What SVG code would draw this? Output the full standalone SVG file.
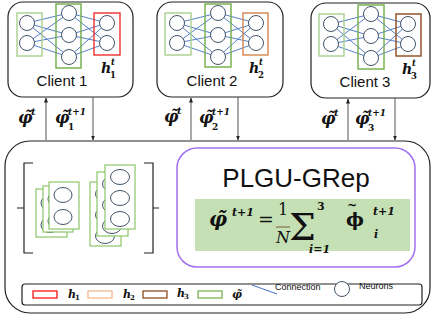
<svg xmlns="http://www.w3.org/2000/svg" width="433" height="320" viewBox="0 0 433 320">
<style>
.box{fill:#fff;stroke:#222;stroke-width:1.2}
.neu{fill:#fff;stroke:#44546a;stroke-width:1}
.con{stroke:#4472c4;stroke-width:0.9;fill:none}
.gin{fill:none;stroke:#a9d18e;stroke-width:1.4}
.ghid{fill:none;stroke:#70ad47;stroke-width:1.4}
.lay{fill:#fff;stroke:#8dc56a;stroke-width:1.2}
.lab{font-family:"Liberation Sans",Arial,sans-serif;fill:#111}
.m{font-family:"DejaVu Serif","Liberation Serif",serif;font-weight:bold;font-style:italic;fill:#111}
.mu{font-family:"DejaVu Serif","Liberation Serif",serif;font-weight:bold;fill:#111}
.arr{stroke:#555;stroke-width:1;fill:none}
</style>
<defs>
<marker id="ah" viewBox="0 0 10 10" refX="9" refY="5" markerWidth="5" markerHeight="5" orient="auto">
<path d="M0,1 L10,5 L0,9 z" fill="#222"/>
</marker>
</defs>

<!-- Client 1 -->
<g id="client1">
<rect class="box" x="8" y="2" width="125" height="95" rx="15"/>
<g class="con">
<path d="M27,23 L69,13 M27,23 L69,35 M27,23 L69,57 M27,43 L69,13 M27,43 L69,35 M27,43 L69,57 M69,13 L107,23 M69,13 L107,43 M69,35 L107,23 M69,35 L107,43 M69,57 L107,23 M69,57 L107,43"/>
</g>
<rect class="gin" x="17" y="13" width="25" height="43"/>
<rect class="ghid" x="56" y="4" width="25" height="64"/>
<rect x="94" y="13" width="26" height="42" fill="none" stroke="#f03030" stroke-width="1.4"/>
<circle class="neu" cx="27" cy="23" r="7.5"/><circle class="neu" cx="27" cy="43" r="7.5"/>
<circle class="neu" cx="69" cy="13" r="7.5"/><circle class="neu" cx="69" cy="35" r="7.5"/><circle class="neu" cx="69" cy="57" r="7.5"/>
<circle class="neu" cx="107" cy="23" r="7.5"/><circle class="neu" cx="107" cy="43" r="7.5"/>
<text class="m" x="101" y="73" font-size="14">h</text>
<text class="m" x="111" y="65" font-size="8.5">t</text>
<text class="mu" x="110" y="78" font-size="8.5">1</text>
<text class="lab" x="62" y="86" font-size="15" text-anchor="middle">Client 1</text>
</g>

<!-- Client 2 -->
<g id="client2">
<rect class="box" x="157" y="2" width="126" height="95" rx="15"/>
<g class="con">
<path d="M177,23 L218,13 M177,23 L218,35 M177,23 L218,57 M177,43 L218,13 M177,43 L218,35 M177,43 L218,57 M218,13 L256,23 M218,13 L256,43 M218,35 L256,23 M218,35 L256,43 M218,57 L256,23 M218,57 L256,43"/>
</g>
<rect class="gin" x="165" y="13" width="26" height="42"/>
<rect class="ghid" x="205" y="4" width="26" height="63"/>
<rect x="243" y="13" width="25" height="42" fill="none" stroke="#d4844f" stroke-width="1.4"/>
<circle class="neu" cx="177" cy="23" r="7.5"/><circle class="neu" cx="177" cy="43" r="7.5"/>
<circle class="neu" cx="218" cy="13" r="7.5"/><circle class="neu" cx="218" cy="35" r="7.5"/><circle class="neu" cx="218" cy="57" r="7.5"/>
<circle class="neu" cx="256" cy="23" r="7.5"/><circle class="neu" cx="256" cy="43" r="7.5"/>
<text class="m" x="249" y="73" font-size="14">h</text>
<text class="m" x="259" y="65" font-size="8.5">t</text>
<text class="mu" x="258" y="78" font-size="8.5">2</text>
<text class="lab" x="212" y="86" font-size="15" text-anchor="middle">Client 2</text>
</g>

<!-- Client 3 -->
<g id="client3">
<rect class="box" x="311" y="3" width="119" height="95" rx="15"/>
<g class="con">
<path d="M331,24 L371,14 M331,24 L371,36 M331,24 L371,58 M331,44 L371,14 M331,44 L371,36 M331,44 L371,58 M371,14 L408,24 M371,14 L408,44 M371,36 L408,24 M371,36 L408,44 M371,58 L408,24 M371,58 L408,44"/>
</g>
<rect class="gin" x="319" y="14" width="25" height="42"/>
<rect class="ghid" x="358" y="5" width="26" height="64"/>
<rect x="396" y="14" width="25" height="42" fill="none" stroke="#8c4a1f" stroke-width="1.4"/>
<circle class="neu" cx="331" cy="24" r="7.5"/><circle class="neu" cx="331" cy="44" r="7.5"/>
<circle class="neu" cx="371" cy="14" r="7.5"/><circle class="neu" cx="371" cy="36" r="7.5"/><circle class="neu" cx="371" cy="58" r="7.5"/>
<circle class="neu" cx="408" cy="24" r="7.5"/><circle class="neu" cx="408" cy="44" r="7.5"/>
<text class="m" x="402" y="74" font-size="14">h</text>
<text class="m" x="412" y="66" font-size="8.5">t</text>
<text class="mu" x="411" y="79" font-size="8.5">3</text>
<text class="lab" x="365" y="87" font-size="15" text-anchor="middle">Client 3</text>
</g>

<!-- Server -->
<g id="server">
<rect class="box" x="5" y="141" width="425" height="172" rx="25"/>
<path d="M33,163 L24,163 L24,253 L33,253 M17,208 L24,208" fill="none" stroke="#222" stroke-width="1.2"/>
<path d="M144,163 L153,163 L153,253 L144,253 M153,208 L159,208" fill="none" stroke="#222" stroke-width="1.2"/>
<rect class="lay" x="36" y="189" width="31" height="48"/>
<ellipse class="neu" cx="50" cy="203" rx="9" ry="7.5"/><ellipse class="neu" cx="50" cy="225" rx="9" ry="7.5"/>
<rect class="lay" x="43" y="186" width="30" height="46"/>
<ellipse class="neu" cx="57" cy="199" rx="9" ry="7.5"/><ellipse class="neu" cx="57" cy="221" rx="9" ry="7.5"/>
<rect class="lay" x="49" y="182" width="30" height="47"/>
<ellipse class="neu" cx="63" cy="195" rx="9" ry="7.5"/><ellipse class="neu" cx="63" cy="217" rx="9" ry="7.5"/>
<rect class="lay" x="90" y="182" width="31" height="64"/>
<ellipse class="neu" cx="105" cy="194" rx="9.5" ry="7.5"/><ellipse class="neu" cx="105" cy="215" rx="9.5" ry="7.5"/><ellipse class="neu" cx="105" cy="236" rx="9.5" ry="7.5"/>
<rect class="lay" x="97" y="172" width="31" height="64"/>
<ellipse class="neu" cx="112" cy="184" rx="9.5" ry="7.5"/><ellipse class="neu" cx="112" cy="205" rx="9.5" ry="7.5"/><ellipse class="neu" cx="112" cy="226" rx="9.5" ry="7.5"/>
<rect class="lay" x="105" y="165" width="30" height="64"/>
<ellipse class="neu" cx="120" cy="177" rx="9.5" ry="7.5"/><ellipse class="neu" cx="120" cy="198" rx="9.5" ry="7.5"/><ellipse class="neu" cx="120" cy="219" rx="9.5" ry="7.5"/>
</g>

<g id="plgu">
<rect x="177" y="148" width="238" height="119" rx="20" fill="#fff" stroke="#a070f0" stroke-width="1.5"/>
<text class="lab" x="296" y="187" font-size="26" text-anchor="middle">PLGU-GRep</text>
<rect x="195" y="199" width="215" height="52" fill="#c5e0b4"/>
<text class="m" x="209" y="226" font-size="20">φ̃</text>
<text class="m" x="232" y="216" font-size="11">t+1</text>
<text x="258" y="226" font-size="19" font-family="DejaVu Serif,serif" fill="#111">=</text>
<text x="283" y="215" font-size="16" text-anchor="middle" font-family="DejaVu Serif,serif" fill="#111">1</text>
<line x1="276" y1="227" x2="290" y2="227" stroke="#7a5a3a" stroke-width="1"/>
<text x="283" y="243" font-size="16" text-anchor="middle" font-family="DejaVu Serif,serif" font-style="italic" fill="#111">N</text>
<text x="289" y="240" style="font-size:38px;font-family:'DejaVu Serif',serif;fill:#111">Σ</text>
<text class="mu" x="317" y="210" font-size="11">3</text>
<text class="m" x="309" y="253" font-size="11">i=1</text>
<text class="mu" x="346" y="226" font-size="19">ϕ</text>
<text class="mu" x="347" y="209" font-size="12">~</text>
<text class="m" x="373" y="215" font-size="11">t+1</text>
<text class="m" x="374" y="238" font-size="11">i</text>
</g>

<g id="legend">
<rect x="22" y="284" width="400" height="21" rx="3" fill="none" stroke="#222" stroke-width="1.2"/>
<rect x="33" y="291" width="24" height="7" fill="none" stroke="#ff0000" stroke-width="1.2"/>
<text class="m" x="68" y="298" font-size="11">h</text><text class="mu" x="75" y="300" font-size="7">1</text>
<rect x="88" y="291" width="24" height="7" fill="none" stroke="#f4b183" stroke-width="1.2"/>
<text class="m" x="123" y="298" font-size="11">h</text><text class="mu" x="130" y="300" font-size="7">2</text>
<rect x="143" y="291" width="24" height="7" fill="none" stroke="#843c0c" stroke-width="1.2"/>
<text class="m" x="177" y="297" font-size="11">h</text><text class="mu" x="184" y="299" font-size="7">3</text>
<rect x="198" y="291" width="24" height="7" fill="none" stroke="#70ad47" stroke-width="1.2"/>
<text class="m" x="232" y="298" font-size="11">φ̃</text>
<line x1="252" y1="285" x2="277" y2="294" stroke="#4472c4" stroke-width="1"/>
<text class="lab" x="275" y="290" font-size="9">Connection</text>
<circle class="neu" cx="342" cy="289" r="7.5"/>
<text class="lab" x="359" y="289" font-size="9">Neurons</text>
</g>

<g id="connectors">
<line class="arr" x1="46" y1="140" x2="46" y2="98" marker-end="url(#ah)"/>
<line class="arr" x1="93" y1="97" x2="93" y2="140" marker-end="url(#ah)"/>
<line class="arr" x1="191" y1="140" x2="191" y2="98" marker-end="url(#ah)"/>
<line class="arr" x1="238" y1="97" x2="238" y2="140" marker-end="url(#ah)"/>
<line class="arr" x1="348" y1="140" x2="348" y2="99" marker-end="url(#ah)"/>
<line class="arr" x1="395" y1="98" x2="395" y2="140" marker-end="url(#ah)"/>
<text class="m" x="18" y="123" font-size="16">φ̃</text>
<text class="m" x="31" y="115" font-size="10">t</text>
<text class="m" x="55" y="123" font-size="16">φ̃</text>
<text class="m" x="68" y="115" font-size="9">t+1</text><text class="mu" x="68" y="130" font-size="9">1</text>
<text class="m" x="164" y="122" font-size="16">φ̃</text>
<text class="m" x="177" y="114" font-size="10">t</text>
<text class="m" x="199" y="123" font-size="16">φ̃</text>
<text class="m" x="212" y="115" font-size="9">t+1</text><text class="mu" x="212" y="130" font-size="9">2</text>
<text class="m" x="321" y="124" font-size="16">φ̃</text>
<text class="m" x="334" y="116" font-size="10">t</text>
<text class="m" x="355" y="124" font-size="16">φ̃</text>
<text class="m" x="368" y="116" font-size="9">t+1</text><text class="mu" x="368" y="131" font-size="9">3</text>
</g>
</svg>
